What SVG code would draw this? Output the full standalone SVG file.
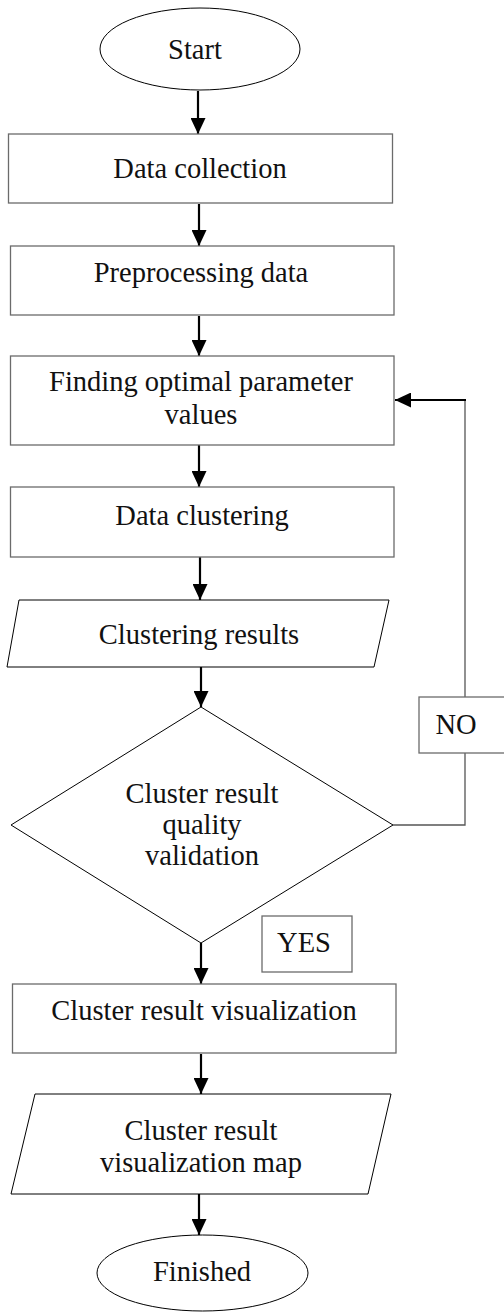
<svg xmlns="http://www.w3.org/2000/svg" width="504" height="1313" viewBox="0 0 504 1313">
  <style>
    .box { fill: #ffffff; stroke: #6b6b6b; stroke-width: 1.3; }
    .shape { fill: #ffffff; stroke: #000000; stroke-width: 1; }
    .label { font-family: "Liberation Serif", "DejaVu Serif", serif; font-size: 28.5px; fill: #111111; text-anchor: middle; }
    .flow { fill: none; stroke: #000000; stroke-width: 2.2; }
    .loop { fill: none; stroke: #555555; stroke-width: 1.3; }
  </style>
  <defs>
    <marker id="head" viewBox="0 0 16 15" refX="16" refY="7.5" markerWidth="16" markerHeight="15" markerUnits="userSpaceOnUse" orient="auto">
      <path d="M0,0 L16,7.5 L0,15 Z" fill="#000000"/>
    </marker>
  </defs>

  <rect width="504" height="1313" fill="#ffffff"/>

  <!-- connectors -->
  <g id="connectors">
    <line class="flow" x1="198" y1="91" x2="198" y2="134" marker-end="url(#head)"/>
    <line class="flow" x1="199" y1="204" x2="199" y2="246" marker-end="url(#head)"/>
    <line class="flow" x1="199" y1="316" x2="199" y2="356" marker-end="url(#head)"/>
    <line class="flow" x1="199" y1="445" x2="199" y2="487" marker-end="url(#head)"/>
    <line class="flow" x1="200" y1="557" x2="200" y2="600" marker-end="url(#head)"/>
    <line class="flow" x1="201" y1="667" x2="201" y2="707" marker-end="url(#head)"/>
    <line class="flow" x1="201" y1="943" x2="201" y2="984" marker-end="url(#head)"/>
    <line class="flow" x1="201" y1="1054" x2="201" y2="1094" marker-end="url(#head)"/>
    <line class="flow" x1="199" y1="1194" x2="199" y2="1235" marker-end="url(#head)"/>
    <!-- NO branch back to the parameter search -->
    <polyline class="loop" points="393,825 465,825 465,753"/>
    <line class="loop" x1="465" y1="697" x2="465" y2="400"/>
    <line class="flow" x1="466" y1="400" x2="395" y2="400" marker-end="url(#head)"/>
  </g>

  <g id="start">
    <ellipse class="shape" cx="200" cy="49" rx="100" ry="41"/>
    <text class="label" x="195" y="59">Start</text>
  </g>

  <g id="data-collection">
    <rect class="box" x="8.5" y="134" width="384" height="69"/>
    <text class="label" x="200" y="178">Data collection</text>
  </g>

  <g id="preprocessing">
    <rect class="box" x="10.5" y="246" width="383.5" height="69"/>
    <text class="label" x="201" y="282">Preprocessing data</text>
  </g>

  <g id="parameters">
    <rect class="box" x="10.5" y="356" width="383.5" height="89"/>
    <text class="label" x="201" y="391">Finding optimal parameter</text>
    <text class="label" x="201" y="424">values</text>
  </g>

  <g id="clustering">
    <rect class="box" x="10.5" y="487" width="383.5" height="70"/>
    <text class="label" x="202" y="525">Data clustering</text>
  </g>

  <g id="clustering-results">
    <polygon class="shape" points="19,600 389,600 374,667 7,667"/>
    <text class="label" x="199" y="644">Clustering results</text>
  </g>

  <g id="validation">
    <polygon class="shape" points="201,707 393,825 201,943 11,825"/>
    <text class="label" x="202" y="803">Cluster result</text>
    <text class="label" x="202" y="834">quality</text>
    <text class="label" x="202" y="865">validation</text>
  </g>

  <g id="label-no">
    <rect class="box" x="419" y="697" width="86" height="56"/>
    <text class="label" x="456" y="734">NO</text>
  </g>

  <g id="label-yes">
    <rect class="box" x="262" y="916" width="90" height="56"/>
    <text class="label" x="304" y="952">YES</text>
  </g>

  <g id="visualization">
    <rect class="box" x="12.5" y="984" width="383.5" height="69"/>
    <text class="label" x="204" y="1020">Cluster result visualization</text>
  </g>

  <g id="visualization-map">
    <polygon class="shape" points="35,1094 391,1094 368,1194 11,1194"/>
    <text class="label" x="201" y="1140">Cluster result</text>
    <text class="label" x="201" y="1172">visualization map</text>
  </g>

  <g id="finished">
    <ellipse class="shape" cx="202.5" cy="1273" rx="105.5" ry="38"/>
    <text class="label" x="202" y="1281">Finished</text>
  </g>
</svg>
